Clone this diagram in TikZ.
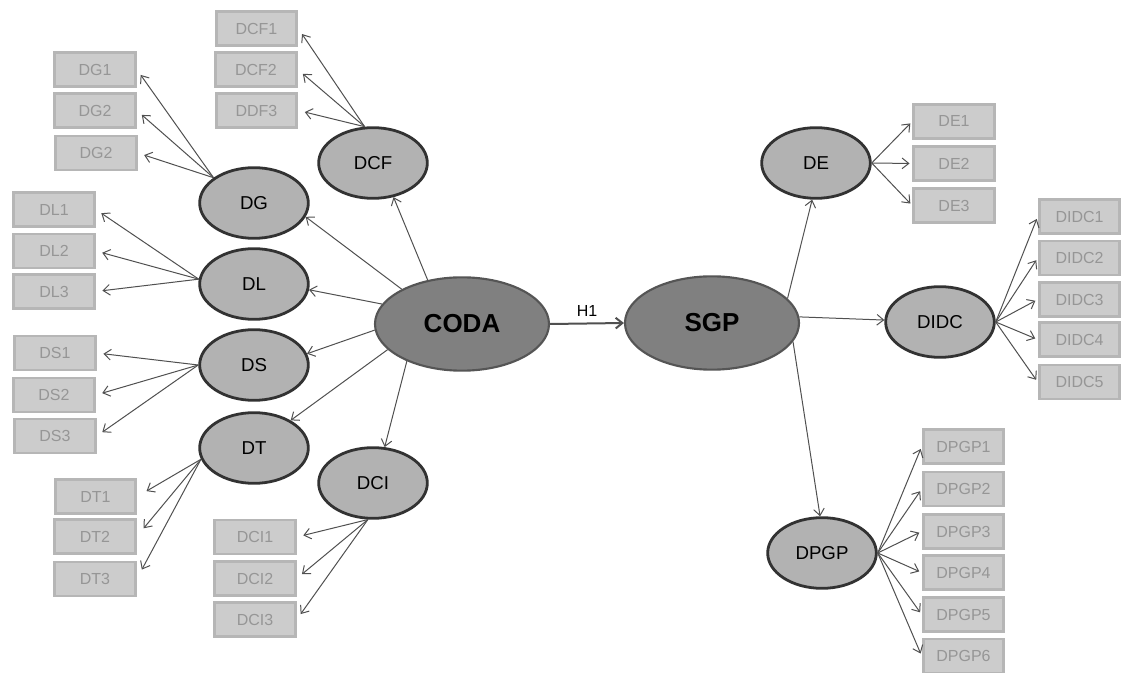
\documentclass[tikz,border=0pt]{standalone}
\usepackage{fontspec}
\setmainfont{Liberation Sans}
\usetikzlibrary{arrows.meta,shapes.geometric}

\definecolor{boxfill}{RGB}{204,204,204}
\definecolor{boxline}{RGB}{182,182,182}
\definecolor{boxtext}{RGB}{150,150,150}
\definecolor{dimfill}{RGB}{178,178,178}
\definecolor{dimline}{RGB}{50,50,50}
\definecolor{corefill}{RGB}{128,128,128}
\definecolor{coreline}{RGB}{85,85,85}
\definecolor{linkcol}{RGB}{80,80,80}

\tikzset{
  item/.style={draw=boxline, fill=boxfill, line width=2.2pt, text=boxtext,
    minimum width=60.5pt, minimum height=25.5pt, inner sep=0pt,
    font=\fontsize{12}{14}\selectfont},
  dim/.style={ellipse, draw=dimline, fill=dimfill, line width=2.1pt,
    minimum width=81.5pt, minimum height=53pt, inner sep=0pt,
    font=\fontsize{14}{16}\selectfont},
  core/.style={ellipse, draw=coreline, fill=corefill, line width=1.6pt,
    minimum width=130.5pt, minimum height=70pt, inner sep=0pt,
    font=\fontsize{19.5}{22}\bfseries\selectfont},
  link/.style={draw=linkcol, line width=0.75pt,
    -{Straight Barb[length=5pt,width=8pt]}},
  leaf/.style={link, shorten >=5pt},
  leafr/.style={link, shorten >=2pt},
}

\begin{document}
\begin{tikzpicture}[x=0.75pt,y=-0.75pt]
\useasboundingbox (0,0) rectangle (1121,673);

% latent constructs
\node[core] (CODA) at (462,324) {CODA};
\node[core] (SGP)  at (712,323) {SGP};

\node[dim] (DCF)  at (373,163) {DCF};
\node[dim] (DG)   at (254,203) {DG};
\node[dim] (DL)   at (254,284) {DL};
\node[dim] (DS)   at (254,365) {DS};
\node[dim] (DT)   at (254,448) {DT};
\node[dim] (DCI)  at (373,483) {DCI};
\node[dim] (DE)   at (816,163) {DE};
\node[dim] (DIDC) at (940,322) {DIDC};
\node[dim] (DPGP) at (822,553) {DPGP};

% indicators
\node[item] (DCF1) at (256.5,28.5) {DCF1};
\node[item] (DCF2) at (256,69.5) {DCF2};
\node[item] (DCF3) at (256.5,110.5) {DDF3};

\node[item] (DG1) at (95,69.5) {DG1};
\node[item] (DG2) at (95,110.5) {DG2};
\node[item] (DG3) at (96,153) {DG2};

\node[item] (DL1) at (54,209.5) {DL1};
\node[item] (DL2) at (54,251) {DL2};
\node[item] (DL3) at (54,291.5) {DL3};

\node[item] (DS1) at (55,353) {DS1};
\node[item] (DS2) at (54,395) {DS2};
\node[item] (DS3) at (55,436) {DS3};

\node[item] (DT1) at (95.5,496.5) {DT1};
\node[item] (DT2) at (95,536.5) {DT2};
\node[item] (DT3) at (95,579) {DT3};

\node[item] (DCI1) at (255,537) {DCI1};
\node[item] (DCI2) at (255,578.5) {DCI2};
\node[item] (DCI3) at (255,619.5) {DCI3};

\node[item] (DE1) at (954,121.5) {DE1};
\node[item] (DE2) at (954,163.5) {DE2};
\node[item] (DE3) at (954,205.5) {DE3};

\node[item] (DIDC1) at (1079.5,216.5) {DIDC1};
\node[item] (DIDC2) at (1079.5,258) {DIDC2};
\node[item] (DIDC3) at (1079.5,299.5) {DIDC3};
\node[item] (DIDC4) at (1079.5,339.5) {DIDC4};
\node[item] (DIDC5) at (1079.5,382) {DIDC5};

\node[item] (DPGP1) at (963.5,446.5) {DPGP1};
\node[item] (DPGP2) at (963.5,489) {DPGP2};
\node[item] (DPGP3) at (963.5,531.5) {DPGP3};
\node[item] (DPGP4) at (963.5,572.5) {DPGP4};
\node[item] (DPGP5) at (963.5,614.5) {DPGP5};
\node[item] (DPGP6) at (963.5,656) {DPGP6};

% structural path
\draw[link, line width=1.5pt] (CODA.east) -- node[above=1pt, font=\fontsize{12}{14}\selectfont] (H1) {H1} (SGP.west);

% CODA dimensions
\draw[link] (CODA.128) -- (DCF.-59);
\draw[link] (CODA.150) -- (DG.-15);
\draw[link] (CODA.166) -- (DL.-6);
\draw[link] (CODA.184) -- (DS.12);
\draw[link] (CODA.199) -- (DT.37);
\draw[link] (CODA.214) -- (DCI.72);

% SGP dimensions
\draw[link] (SGP.18) -- (DE.264);
\draw[link] (SGP.4) -- (DIDC.178);
\draw[link] (SGP.347) -- (DPGP.93);

% measurement arrows
\foreach \i in {1,2,3} \draw[leaf] (DCF.103) -- (DCF\i.east);
\foreach \i in {1,2,3} \draw[leaf] (DG.148) -- (DG\i.east);
\foreach \i in {1,2,3} \draw[leaf] (DL.175) -- (DL\i.east);
\foreach \i in {1,2,3} \draw[leaf] (DS.180) -- (DS\i.east);
\foreach \i in {1,2,3} \draw[leaf, shorten >=8pt] (DT.192) -- (DT\i.east);
\foreach \i in {1,2,3} \draw[leaf] (DCI.262) -- (DCI\i.east);
\foreach \i in {1,2,3} \draw[leafr] (DE.0) -- (DE\i.west);
\foreach \i in {1,...,5} \draw[leafr] (DIDC.0) -- (DIDC\i.west);
\foreach \i in {1,...,6} \draw[leafr] (DPGP.0) -- (DPGP\i.west);
\end{tikzpicture}
\end{document}
